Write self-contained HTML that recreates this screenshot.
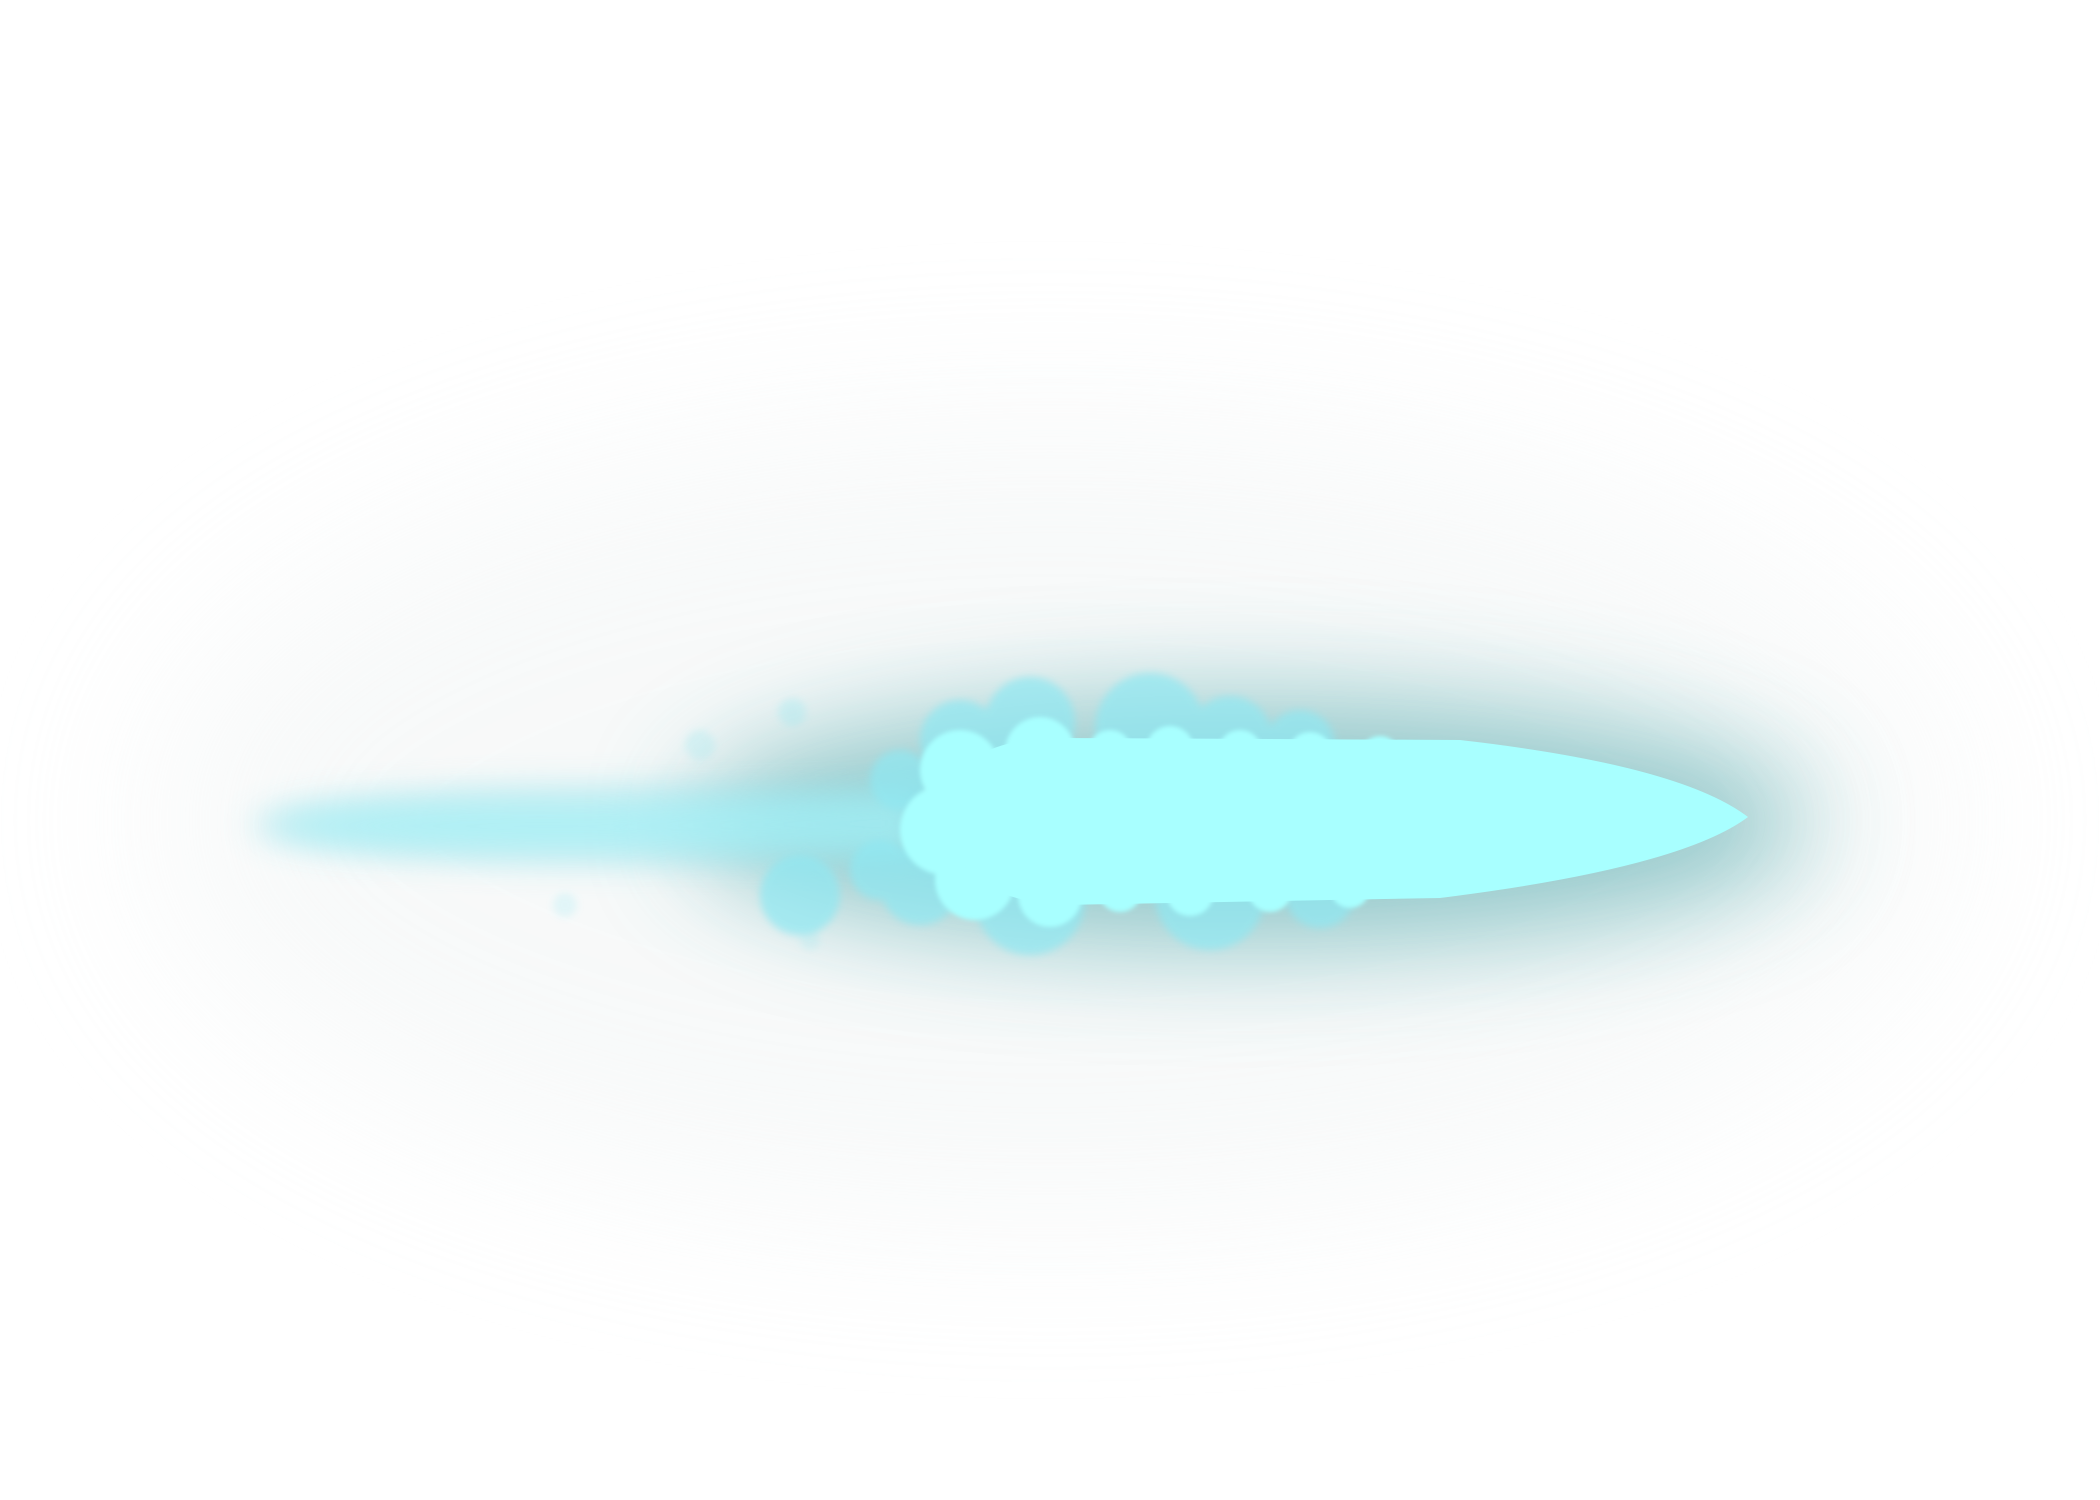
<!DOCTYPE html>
<html><head><meta charset="utf-8"><style>
html,body{margin:0;padding:0;background:#fff;width:2100px;height:1500px;overflow:hidden}
</style></head><body>
<svg width="2100" height="1500" viewBox="0 0 2100 1500" xmlns="http://www.w3.org/2000/svg">
<defs>
<filter id="b90" x="-50%" y="-50%" width="200%" height="200%"><feGaussianBlur stdDeviation="90"/></filter>
<filter id="b50" x="-50%" y="-50%" width="200%" height="200%"><feGaussianBlur stdDeviation="55"/></filter>
<filter id="b18" x="-50%" y="-50%" width="200%" height="200%"><feGaussianBlur stdDeviation="16"/></filter>
<filter id="b6" x="-50%" y="-50%" width="200%" height="200%"><feGaussianBlur stdDeviation="4"/></filter>
<filter id="b2" x="-50%" y="-50%" width="200%" height="200%"><feGaussianBlur stdDeviation="2"/></filter>
</defs>
<rect width="2100" height="1500" fill="#fff"/>
<ellipse cx="1050" cy="820" rx="900" ry="400" fill="#e6ecec" opacity="0.3" filter="url(#b90)"/>
<ellipse cx="1250" cy="822" rx="560" ry="125" fill="#3a9ea2" opacity="0.55" filter="url(#b50)"/>
<ellipse cx="620" cy="825" rx="370" ry="40" fill="#8fdde6" opacity="0.45" filter="url(#b18)"/>
<path d="M 270 825 Q 300 800 600 803 L 920 788 L 920 858 L 600 850 Q 300 852 270 825 Z" fill="#a4f2f8" opacity="0.7" filter="url(#b18)"/>
<g fill="#8fe8f2" opacity="0.7" filter="url(#b6)">
<circle cx="960" cy="740" r="40"/><circle cx="1030" cy="722" r="45"/><circle cx="1150" cy="728" r="55"/><circle cx="1230" cy="738" r="42"/><circle cx="1300" cy="745" r="35"/>
<circle cx="800" cy="895" r="40"/><circle cx="1030" cy="900" r="55"/><circle cx="1210" cy="895" r="55"/><circle cx="1320" cy="893" r="35"/><circle cx="920" cy="885" r="40"/>
<circle cx="900" cy="780" r="30"/><circle cx="880" cy="870" r="30"/>
<circle cx="792" cy="712" r="14" opacity="0.4"/><circle cx="700" cy="745" r="15" opacity="0.35"/><circle cx="565" cy="905" r="12" opacity="0.3"/><circle cx="810" cy="940" r="10" opacity="0.3"/>
</g>
<g fill="#a8ffff" filter="url(#b2)">
<circle cx="960" cy="770" r="40"/><circle cx="945" cy="830" r="45"/><circle cx="975" cy="880" r="40"/><circle cx="1040" cy="752" r="35"/><circle cx="1050" cy="895" r="32"/>
<circle cx="1110" cy="752" r="22"/><circle cx="1170" cy="750" r="24"/><circle cx="1240" cy="752" r="22"/><circle cx="1310" cy="754" r="22"/><circle cx="1380" cy="756" r="20"/>
<circle cx="1120" cy="890" r="22"/><circle cx="1190" cy="892" r="24"/><circle cx="1270" cy="890" r="22"/><circle cx="1350" cy="888" r="20"/>
</g>
<path d="M 960 770 Q 990 738 1060 738 L 1460 740 Q 1680 765 1748 817 Q 1680 868 1440 898 L 1060 905 Q 985 900 960 860 Z" fill="#a8ffff"/>
</svg>
</body></html>
